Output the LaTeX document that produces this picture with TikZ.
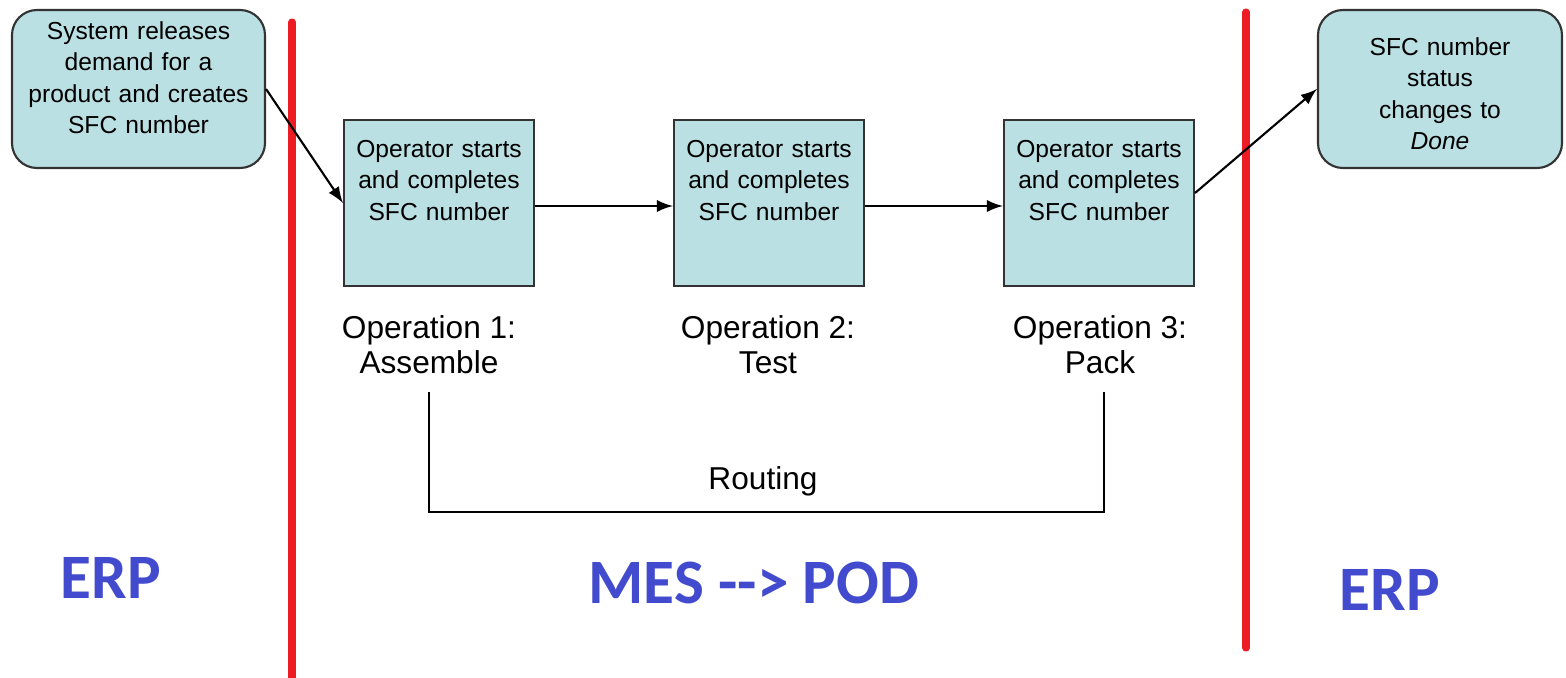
\documentclass[tikz,border=0pt]{standalone}
\usepackage{tikz}
\usepackage{fontspec}
\setmainfont{Liberation Sans}
\newfontfamily\erpfont{Carlito}
\definecolor{boxcyan}{RGB}{187,224,227}
\definecolor{lanered}{RGB}{237,28,36}
\definecolor{laneblue}{RGB}{66,74,206}

\begin{document}
\begin{tikzpicture}[>=latex, line width=0.6pt]
                \useasboundingbox (0,0) rectangle (15.66,-6.78);
                % lane dividers
                \draw[lanered, line width=2pt, line cap=round] (2.92,-0.22) -- (2.92,-6.78);
                \draw[lanered, line width=2pt, line cap=round] (12.46,-0.12) -- (12.46,-6.48);
                \begin{scope}[every node/.style={draw=black!80, fill=boxcyan, align=center, inner sep=0pt, font=\fontsize{7}{9}\selectfont}]
                    \node (S) [rounded corners=0.25cm, text width=2.53cm, text height=0.29cm, text depth=1.29cm] at (1.385,-0.89) {System releases\\demand for a\\product and creates\\SFC number};
                    \node (O1) [text width=1.9cm, text height=0.37cm, text depth=1.29cm] at (4.39,-2.03) {Operator starts\\and completes\\SFC number};
                    \node (O2) [text width=1.9cm, text height=0.37cm, text depth=1.29cm] at (7.69,-2.03) {Operator starts\\and completes\\SFC number};
                    \node (O3) [text width=1.9cm, text height=0.37cm, text depth=1.29cm] at (10.99,-2.03) {Operator starts\\and completes\\SFC number};
                    \node (D) [rounded corners=0.25cm, text width=2.44cm, text height=0.45cm, text depth=1.13cm] at (14.40,-0.89) {SFC number\\status\\changes to\\\textit{Done}};
                \end{scope}
                \begin{scope}[every node/.style={align=center, font=\fontsize{9}{10}\selectfont}]
                    \node (L1) at (4.29,-3.45) {Operation 1:\\Assemble};
                    \node (L2) at (7.68,-3.45) {Operation 2:\\Test};
                    \node (L3) at (11.00,-3.45) {Operation 3:\\Pack};
                    \node (R) at (7.63,-4.81) {Routing};
                \end{scope}
                \begin{scope}[every node/.style={text=laneblue, font=\erpfont\bfseries\fontsize{18}{20}\selectfont}]
                    \node (E1) at (1.11,-5.78) {ERP};
                    \node (M) at (7.54,-5.83) {MES --> POD};
                    \node (E2) at (13.90,-5.90) {ERP};
                \end{scope}
                \begin{scope}[every edge/.style={draw=black, ->}]
                    \draw (S.east) edge (O1.west);
                    \draw ([yshift=-0.03cm]O1.east) edge ([yshift=-0.03cm]O2.west);
                    \draw ([yshift=-0.03cm]O2.east) edge ([yshift=-0.03cm]O3.west);
                    \draw ([yshift=0.1cm]O3.east) edge (D.west);
                \end{scope}
                \coordinate (r1) at (4.29,-3.92);
                \coordinate (r2) at (11.04,-3.92);
                \draw (r1) -- ++(0,-1.2) -| (r2);
            \end{tikzpicture}
\end{document}
